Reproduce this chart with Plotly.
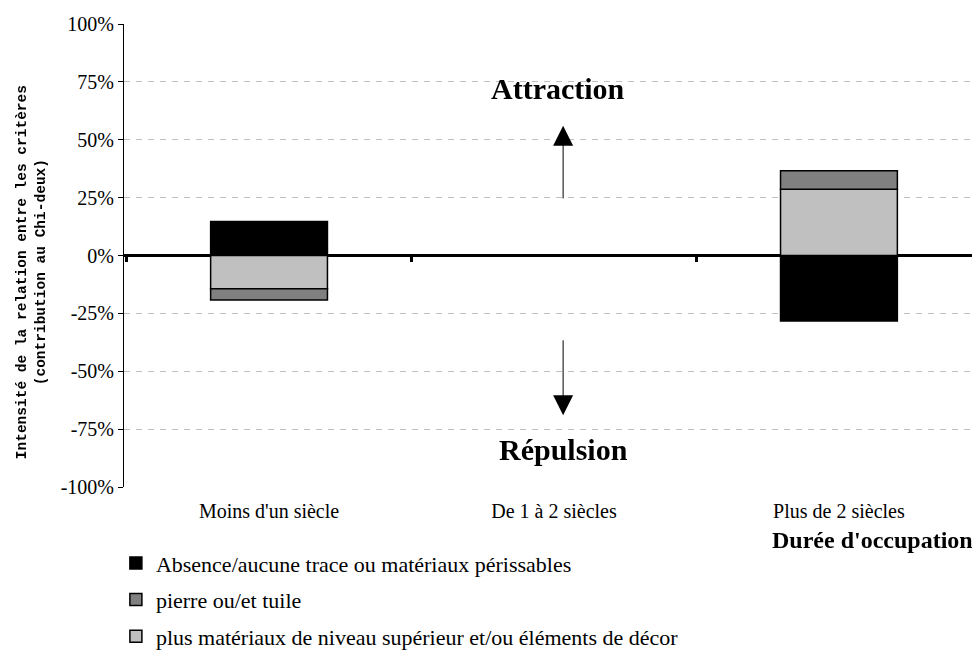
import plotly.graph_objects as go

categories = ["Moins d'un siècle", "De 1 à 2 siècles", "Plus de 2 siècles"]

# contributions au Chi-deux (%)
absence_vals = [14.7, 0.0, -28.3]
superieur_vals = [-14.4, 0.0, 28.6]
pierre_vals = [-4.8, 0.0, 8.0]

y_ticks = [-100, -75, -50, -25, 0, 25, 50, 75, 100]
y_ticktext = [f"{v}%" for v in y_ticks]

SERIF = "Liberation Serif, Times New Roman, serif"
X_RANGE = [-0.509, 2.495]

# la page html garde la marge de 8px du body : la figure fait donc 972x642
fig = go.Figure()
# ordre d'empilement : noir, gris clair, gris foncé (legendrank pour l'ordre de la légende)
fig.add_trace(go.Bar(
    x=categories, y=absence_vals, name="Absence/aucune trace ou matériaux périssables",
    marker=dict(color="#000000", line=dict(color="#000000", width=1.5)),
    legendrank=1, legendgroup="a",
))
fig.add_trace(go.Bar(
    x=categories, y=superieur_vals,
    name="plus matériaux de niveau supérieur et/ou éléments de décor",
    marker=dict(color="#c0c0c0", line=dict(color="#000000", width=1.5)),
    legendrank=3, legendgroup="c",
))
fig.add_trace(go.Bar(
    x=categories, y=pierre_vals, name="pierre ou/et tuile",
    marker=dict(color="#808080", line=dict(color="#000000", width=1.5)),
    legendrank=2, legendgroup="b",
))
# trace invisible qui porte l'axe des catégories posé sur la ligne du zéro (petites graduations)
fig.add_trace(go.Scatter(
    x=categories, y=absence_vals, xaxis="x2", mode="markers", opacity=0,
    showlegend=False, hoverinfo="skip",
))

# flèches Attraction / Répulsion
fig.add_annotation(x=1.032, y=56, ax=1.032, ay=24, xref="x", yref="y", axref="x", ayref="y",
                   text="", showarrow=True, arrowhead=2, arrowsize=4, arrowwidth=1, arrowcolor="#000000")
fig.add_annotation(x=1.032, y=-69, ax=1.032, ay=-36, xref="x", yref="y", axref="x", ayref="y",
                   text="", showarrow=True, arrowhead=2, arrowsize=4, arrowwidth=1, arrowcolor="#000000")
fig.add_annotation(x=1.015, y=72, xref="x", yref="y", text="<b>Attraction</b>", showarrow=False,
                   font=dict(family=SERIF, size=30, color="#000000"))
fig.add_annotation(x=1.032, y=-84, xref="x", yref="y", text="<b>Répulsion</b>", showarrow=False,
                   font=dict(family=SERIF, size=30, color="#000000"))
fig.add_annotation(x=1.0, y=-0.1145, xref="paper", yref="paper", xanchor="right", yanchor="middle",
                   xshift=-5, text="<b>Durée d'occupation</b>", showarrow=False,
                   font=dict(family=SERIF, size=24, color="#000000"))
# titre de l'axe vertical
fig.add_annotation(x=-0.1086, y=0.464, xref="paper", yref="paper", textangle=-90,
                   xanchor="center", yanchor="middle", showarrow=False,
                   text="<b>Intensité de la relation entre les critères<br>(contribution au Chi-deux)</b>",
                   font=dict(family="Liberation Mono, DejaVu Sans Mono, monospace", size=14.5, color="#000000"))

fig.update_layout(
    width=972, height=642,
    barmode="relative", bargap=0.59,
    plot_bgcolor="#ffffff", paper_bgcolor="#ffffff",
    margin=dict(l=116, r=0, t=16, b=163, autoexpand=False),
    font=dict(family=SERIF, size=20, color="#000000"),
    showlegend=True,
    legend=dict(
        orientation="v", xref="container", yref="container",
        x=0.111, xanchor="left", y=0.168, yanchor="top",
        font=dict(family=SERIF, size=22, color="#000000"),
        traceorder="grouped", tracegroupgap=5, itemwidth=30,
    ),
    xaxis=dict(
        range=X_RANGE, showgrid=False, showline=False, zeroline=False, ticks="",
        ticklabelstandoff=10, tickfont=dict(family=SERIF, size=20),
    ),
    xaxis2=dict(
        overlaying="x", anchor="free", position=0.5, side="bottom",
        range=X_RANGE, type="category", tickson="boundaries", showticklabels=False,
        ticks="outside", ticklen=5, tickwidth=3, tickcolor="#000000",
        showgrid=False, showline=False, zeroline=False,
    ),
    yaxis=dict(
        range=[-100, 100], tickvals=y_ticks, ticktext=y_ticktext,
        showgrid=True, gridcolor="#c0c0c0", griddash="6px,6px", gridwidth=1,
        zeroline=True, zerolinecolor="#000000", zerolinewidth=3,
        showline=True, linecolor="#000000", linewidth=1,
        ticks="outside", ticklen=5, tickcolor="#000000",
        tickfont=dict(family=SERIF, size=20),
    ),
)

fig.write_html("out.html")
